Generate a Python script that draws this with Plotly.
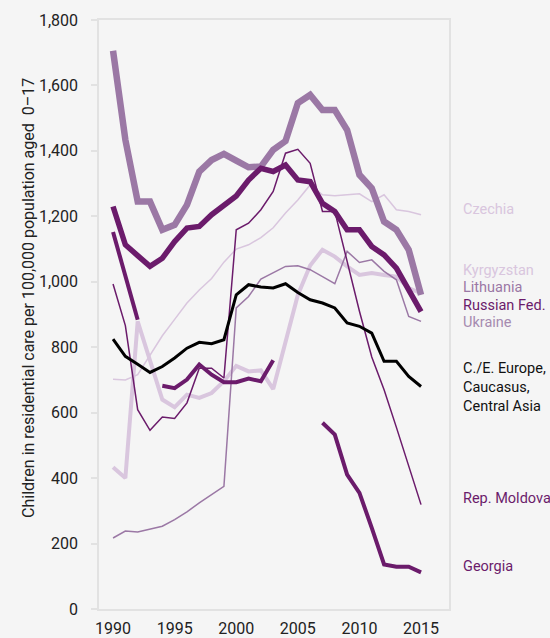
import plotly.graph_objects as go

years = list(range(1990, 2016))

# Values (children in residential care per 100,000 aged 0-17)
lithuania_thick = [1706, 1434, 1245, 1245, 1159, 1174, 1235, 1337, 1372, 1391, 1370, 1350, 1352,
                   1403, 1430, 1546, 1571, 1525, 1525, 1464, 1327, 1286, 1184, 1159, 1098, 960]
russian_fed = [1230, 1113, 1080, 1047, 1072, 1123, 1164, 1169, 1205, 1235, 1262, 1311, 1347,
               1337, 1357, 1311, 1306, 1240, 1215, 1159, 1159, 1108, 1082, 1042, 976, 909]
cee_cis = [825, 772, 748, 723, 741, 767, 797, 815, 811, 823, 960, 991, 984,
           981, 994, 967, 945, 935, 920, 874, 864, 843, 757, 757, 711, 680]
georgia = [1152, 1020, 884, None, 682, 675, 701, 747, 716, 693, 693, 704, 696,
           760, None, None, None, 569, 533, 411, 355, 248, 136, 129, 129, 112]
moldova = [993, 866, 609, 546, 587, 582, 630, 736, 736, 706, 1159, 1179, 1220,
           1276, 1393, 1405, 1362, 1215, 1215, 1065, 910, 770, 670, 555, 440, 319]
czechia = [702, 700, 716, 775, 835, 885, 935, 975, 1010, 1060, 1100, 1113, 1135,
           1165, 1210, 1250, 1296, 1266, 1263, 1266, 1269, 1245, 1266, 1220, 1215, 1205]
kyrgyzstan = [433, 400, 879, 757, 640, 617, 655, 645, 660, 696, 743, 726, 729,
              672, 820, 960, 1050, 1098, 1077, 1047, 1021, 1027, 1021, 1016, 981, 965]
ukraine_thin = [217, 238, 235, 245, 253, 273, 297, 324, 350, 375, 920, 955, 1008,
                1027, 1047, 1049, 1037, 1016, 994, 1093, 1059, 1067, 1032, 1006, 894, 879]

label_texts = ["Czechia", "Kyrgyzstan", "Lithuania", "Russian Fed.", "Ukraine",
               "C./E. Europe,<br>Caucasus,<br>Central Asia", "Rep. Moldova", "Georgia"]
label_y = [1222, 1036, 981, 929, 877, 678, 339, 131]
label_colors = ["#d9c6de", "#d9c6de", "#9b78a5", "#6b1b6b", "#a68bb0",
                "#111111", "#6b1b6b", "#6b1b6b"]

y_tick_vals = list(range(0, 1801, 200))
x_tick_vals = [1990, 1995, 2000, 2005, 2010, 2015]

DARK = "#6b1b6b"
MED = "#9b78a5"
LIGHT = "#d9c6de"

series = [
    ("Czechia", czechia, LIGHT, 1.5),
    ("Kyrgyzstan", kyrgyzstan, LIGHT, 4),
    ("Ukraine", ukraine_thin, MED, 1.5),
    ("Rep. Moldova", moldova, DARK, 1.5),
    ("Lithuania", lithuania_thick, MED, 6.5),
    ("Georgia", georgia, DARK, 4),
    ("Russian Fed.", russian_fed, DARK, 5.5),
    ("C./E. Europe, Caucasus, Central Asia", cee_cis, "#000000", 3),
]

fig = go.Figure()
for name, vals, color, width in series:
    fig.add_trace(go.Scatter(x=years, y=vals, mode="lines", name=name,
                             line=dict(color=color, width=width),
                             connectgaps=False, showlegend=False))

FONT = "Roboto"
for txt, yv, col in zip(label_texts, label_y, label_colors):
    fig.add_annotation(x=1.034, xref="paper", y=yv, yref="y", text=txt,
                       showarrow=False, xanchor="left", yanchor="middle", align="left",
                       font=dict(family=FONT, size=14.5, color=col))

fig.add_annotation(x=-0.203, xref="paper", y=0.528, yref="paper",
                   text="Children in residential care per 100,000 population aged  0\u201317",
                   textangle=-90, showarrow=False, xanchor="center", yanchor="middle",
                   font=dict(family=FONT, size=16, color="#222222"))

fig.update_layout(
    width=550, height=638,
    margin=dict(l=99, r=101, t=20, b=29, autoexpand=False),
    paper_bgcolor="#f5f5f5", plot_bgcolor="#f5f5f5",
    font=dict(family=FONT, size=16, color="#222222"),
)
fig.update_xaxes(range=[1988.86, 2017.27], tickvals=x_tick_vals, showgrid=False,
                 zeroline=False, showline=True, mirror=True, linecolor="#e2e2e2",
                 linewidth=1.5, ticks="", ticklabelstandoff=4, automargin=False,
                 tickfont=dict(family=FONT, size=16, color="#222222"))
fig.update_yaxes(range=[0, 1800], tickvals=y_tick_vals, tickformat=",", showgrid=False,
                 zeroline=False, showline=True, mirror=True, linecolor="#e2e2e2",
                 linewidth=1.5, ticks="outside", ticklen=6, tickcolor="#e2e2e2",
                 tickwidth=1.5, ticklabelstandoff=10, automargin=False,
                 tickfont=dict(family=FONT, size=16, color="#222222"))

fig.write_html("out.html", config={"displayModeBar": False},
               post_script="document.body.style.margin='0';document.body.style.background='#f5f5f5';")
